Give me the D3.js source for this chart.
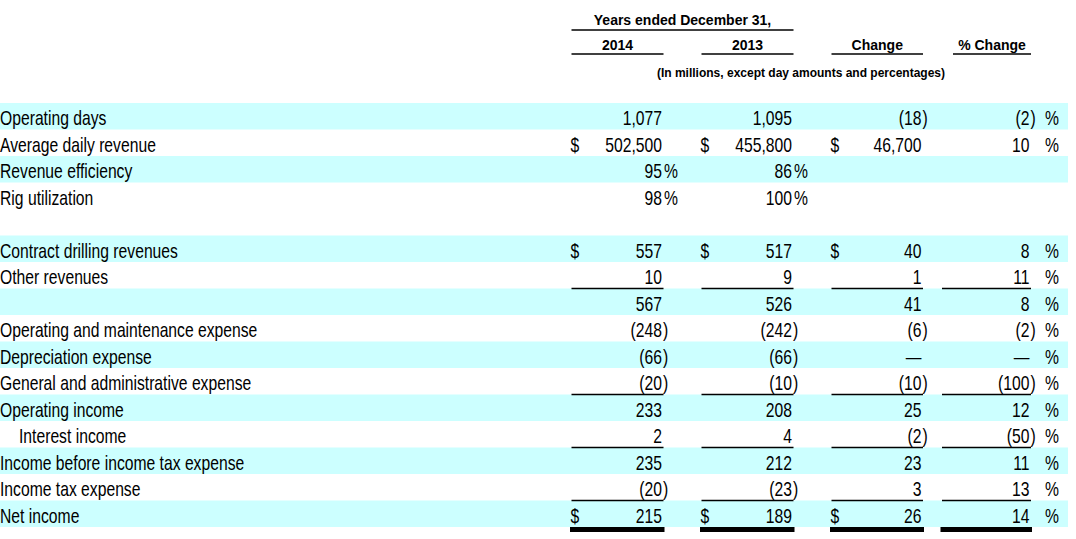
<!DOCTYPE html>
<html>
<head>
	<meta charset="utf-8">
	<title>Years ended December 31</title>
	<script type="text/javascript" src="https://cdn.jsdelivr.net/npm/d3@7"></script>
	<style>
		body { margin: 0; background: #fff; }
		text { fill: #000; }
	</style>
</head>
<body>
	<script type="text/javascript">
		var svgWidth = 1076;
		var svgHeight = 539;

		var labels = ["Operating days", "Average daily revenue", "Revenue efficiency", "Rig utilization", "",
			"Contract drilling revenues", "Other revenues", "", "Operating and maintenance expense",
			"Depreciation expense", "General and administrative expense", "Operating income",
			"Interest income", "Income before income tax expense", "Income tax expense", "Net income"];
		var v2014 = [1077, 502500, 95, 98, null, 557, 10, 567, -248, -66, -20, 233, 2, 235, -20, 215];
		var v2013 = [1095, 455800, 86, 100, null, 517, 9, 526, -242, -66, -10, 208, 4, 212, -23, 189];
		var change = [-18, 46700, null, null, null, 40, 1, 41, -6, 0, -10, 25, -2, 23, 3, 26];
		var pctChange = [-2, 10, null, null, null, 8, 11, 8, -2, 0, -100, 12, -50, 11, 13, 14];

		var colHeads = ["2014", "2013", "Change", "% Change"];
		var dollarRows = ["Average daily revenue", "Contract drilling revenues", "Net income"];
		var percentRows = ["Revenue efficiency", "Rig utilization"];
		var ruleRows = ["Other revenues", "General and administrative expense", "Interest income", "Income tax expense"];
		var doubleRuleRows = ["Net income"];
		var indentRows = ["Interest income"];

		var columns = [v2014, v2013, change, pctChange];

		var svg = d3.select("body")
			.append("svg")
			.attr("width", svgWidth)
			.attr("height", svgHeight);

		// rows
		var y = d3.scaleBand()
			.domain(d3.range(labels.length))
			.range([103, 527]);

		// right edge of each number column, and its left edge (for $ and rules)
		var xRight = d3.scaleOrdinal().domain(colHeads).range([662, 792, 921.5, 1029.5]);
		var xLeft = d3.scaleOrdinal().domain(colHeads).range([571.5, 701.5, 831.5, 942]);

		var bodyFont = "'Liberation Sans Narrow', 'Arial Narrow', 'Liberation Sans', sans-serif";
		var headFont = "'Liberation Sans', Arial, sans-serif";
		var narrow = 0.785; // no narrow face installed, so squeeze the regular one

		// put a text at x,y squeezed horizontally
		function put(g, x, yy, s, anchor) {
			return g.append("text")
				.attr("transform", "translate(" + x + "," + yy + ") scale(" + narrow + ",1)")
				.attr("text-anchor", anchor || "start")
				.text(s);
		}

		// shading: alternate rows, restarting after the empty row
		var shaded = [];
		var k = 0;
		labels.forEach(function(l, i){
			if (l === "" && v2014[i] == null) { shaded.push(false); k = 0; return; }
			shaded.push(k % 2 === 0);
			k++;
		});

		svg.selectAll("rect.band")
			.data(d3.range(labels.length).filter(function(i){ return shaded[i]; }))
			.enter()
			.append("rect")
			.attr("class", "band")
			.attr("x", 0)
			.attr("y", function(i){ return y(i); })
			.attr("width", 1068)
			.attr("height", y.bandwidth())
			.attr("fill", "#ccffff");

		// header
		var head = svg.append("g")
			.attr("font-family", headFont)
			.attr("font-weight", "bold")
			.attr("font-size", "14px")
			.attr("text-anchor", "middle");

		head.append("text")
			.attr("x", (xLeft("2014") + xRight("2013") + 1.5) / 2)
			.attr("y", 25)
			.text("Years ended December 31,");
		head.append("line")
			.attr("x1", xLeft("2014")).attr("x2", xRight("2013") + 1.5)
			.attr("y1", 30).attr("y2", 30)
			.attr("stroke", "#000").attr("stroke-width", 1.5);

		head.selectAll("text.col")
			.data(colHeads)
			.enter()
			.append("text")
			.attr("class", "col")
			.attr("x", function(d){ return d === "% Change" ? 992 : (xLeft(d) + xRight(d) + 1.5) / 2; })
			.attr("y", 50)
			.text(function(d){ return d; });

		head.selectAll("line.col")
			.data(colHeads)
			.enter()
			.append("line")
			.attr("class", "col")
			.attr("x1", function(d){ return d === "% Change" ? 953 : xLeft(d); })
			.attr("x2", function(d){ return xRight(d) + 1.5; })
			.attr("y1", 54).attr("y2", 54)
			.attr("stroke", "#000").attr("stroke-width", 1.5);

		head.append("text")
			.attr("x", 801)
			.attr("y", 77)
			.attr("font-size", "12px")
			.text("(In millions, except day amounts and percentages)");

		// body
		var body = svg.append("g")
			.attr("font-family", bodyFont)
			.attr("font-size", "20px");

		var base = 22;

		labels.forEach(function(d, i){
			if (d === "") return;
			put(body, indentRows.indexOf(d) >= 0 ? 19 : 0, y(i) + base, d);
		});

		var num = d3.format(",");

		colHeads.forEach(function(col, c){
			var vals = columns[c];
			var g = body.append("g");
			vals.forEach(function(v, i){
				if (v == null) return;
				var yy = y(i) + base;
				var r = xRight(col);
				var s = v === 0 ? "\u2014" : (v < 0 ? "(" : "") + num(Math.abs(v));
				put(g, r, yy, s, "end");
				if (v < 0) put(g, r + 1, yy, ")");
				if (percentRows.indexOf(labels[i]) >= 0) put(g, r + 2, yy, "%");
				if (c < 3 && dollarRows.indexOf(labels[i]) >= 0) put(g, xLeft(col) - 1, yy, "$");
				if (c === 3) put(g, 1045, yy, "%");
			});
		});

		// single rules under subtotal rows
		var ruleIdx = d3.range(labels.length).filter(function(i){ return ruleRows.indexOf(labels[i]) >= 0; });
		ruleIdx.forEach(function(i){
			svg.selectAll(null)
				.data(colHeads)
				.enter()
				.append("line")
				.attr("x1", function(d){ return xLeft(d); })
				.attr("x2", function(d){ return xRight(d) + 1.5; })
				.attr("y1", y(i) + y.bandwidth())
				.attr("y2", y(i) + y.bandwidth())
				.attr("stroke", "#000")
				.attr("stroke-width", 1.4);
		});

		// heavy rule under net income
		var dblIdx = d3.range(labels.length).filter(function(i){ return doubleRuleRows.indexOf(labels[i]) >= 0; });
		dblIdx.forEach(function(i){
			svg.selectAll(null)
				.data(colHeads)
				.enter()
				.append("rect")
				.attr("x", function(d){ return xLeft(d) - 1.5; })
				.attr("width", function(d){ return xRight(d) - xLeft(d) + 4; })
				.attr("y", y(i) + y.bandwidth())
				.attr("height", 5)
				.attr("fill", "#000");
		});
	</script>
</body>
</html>
